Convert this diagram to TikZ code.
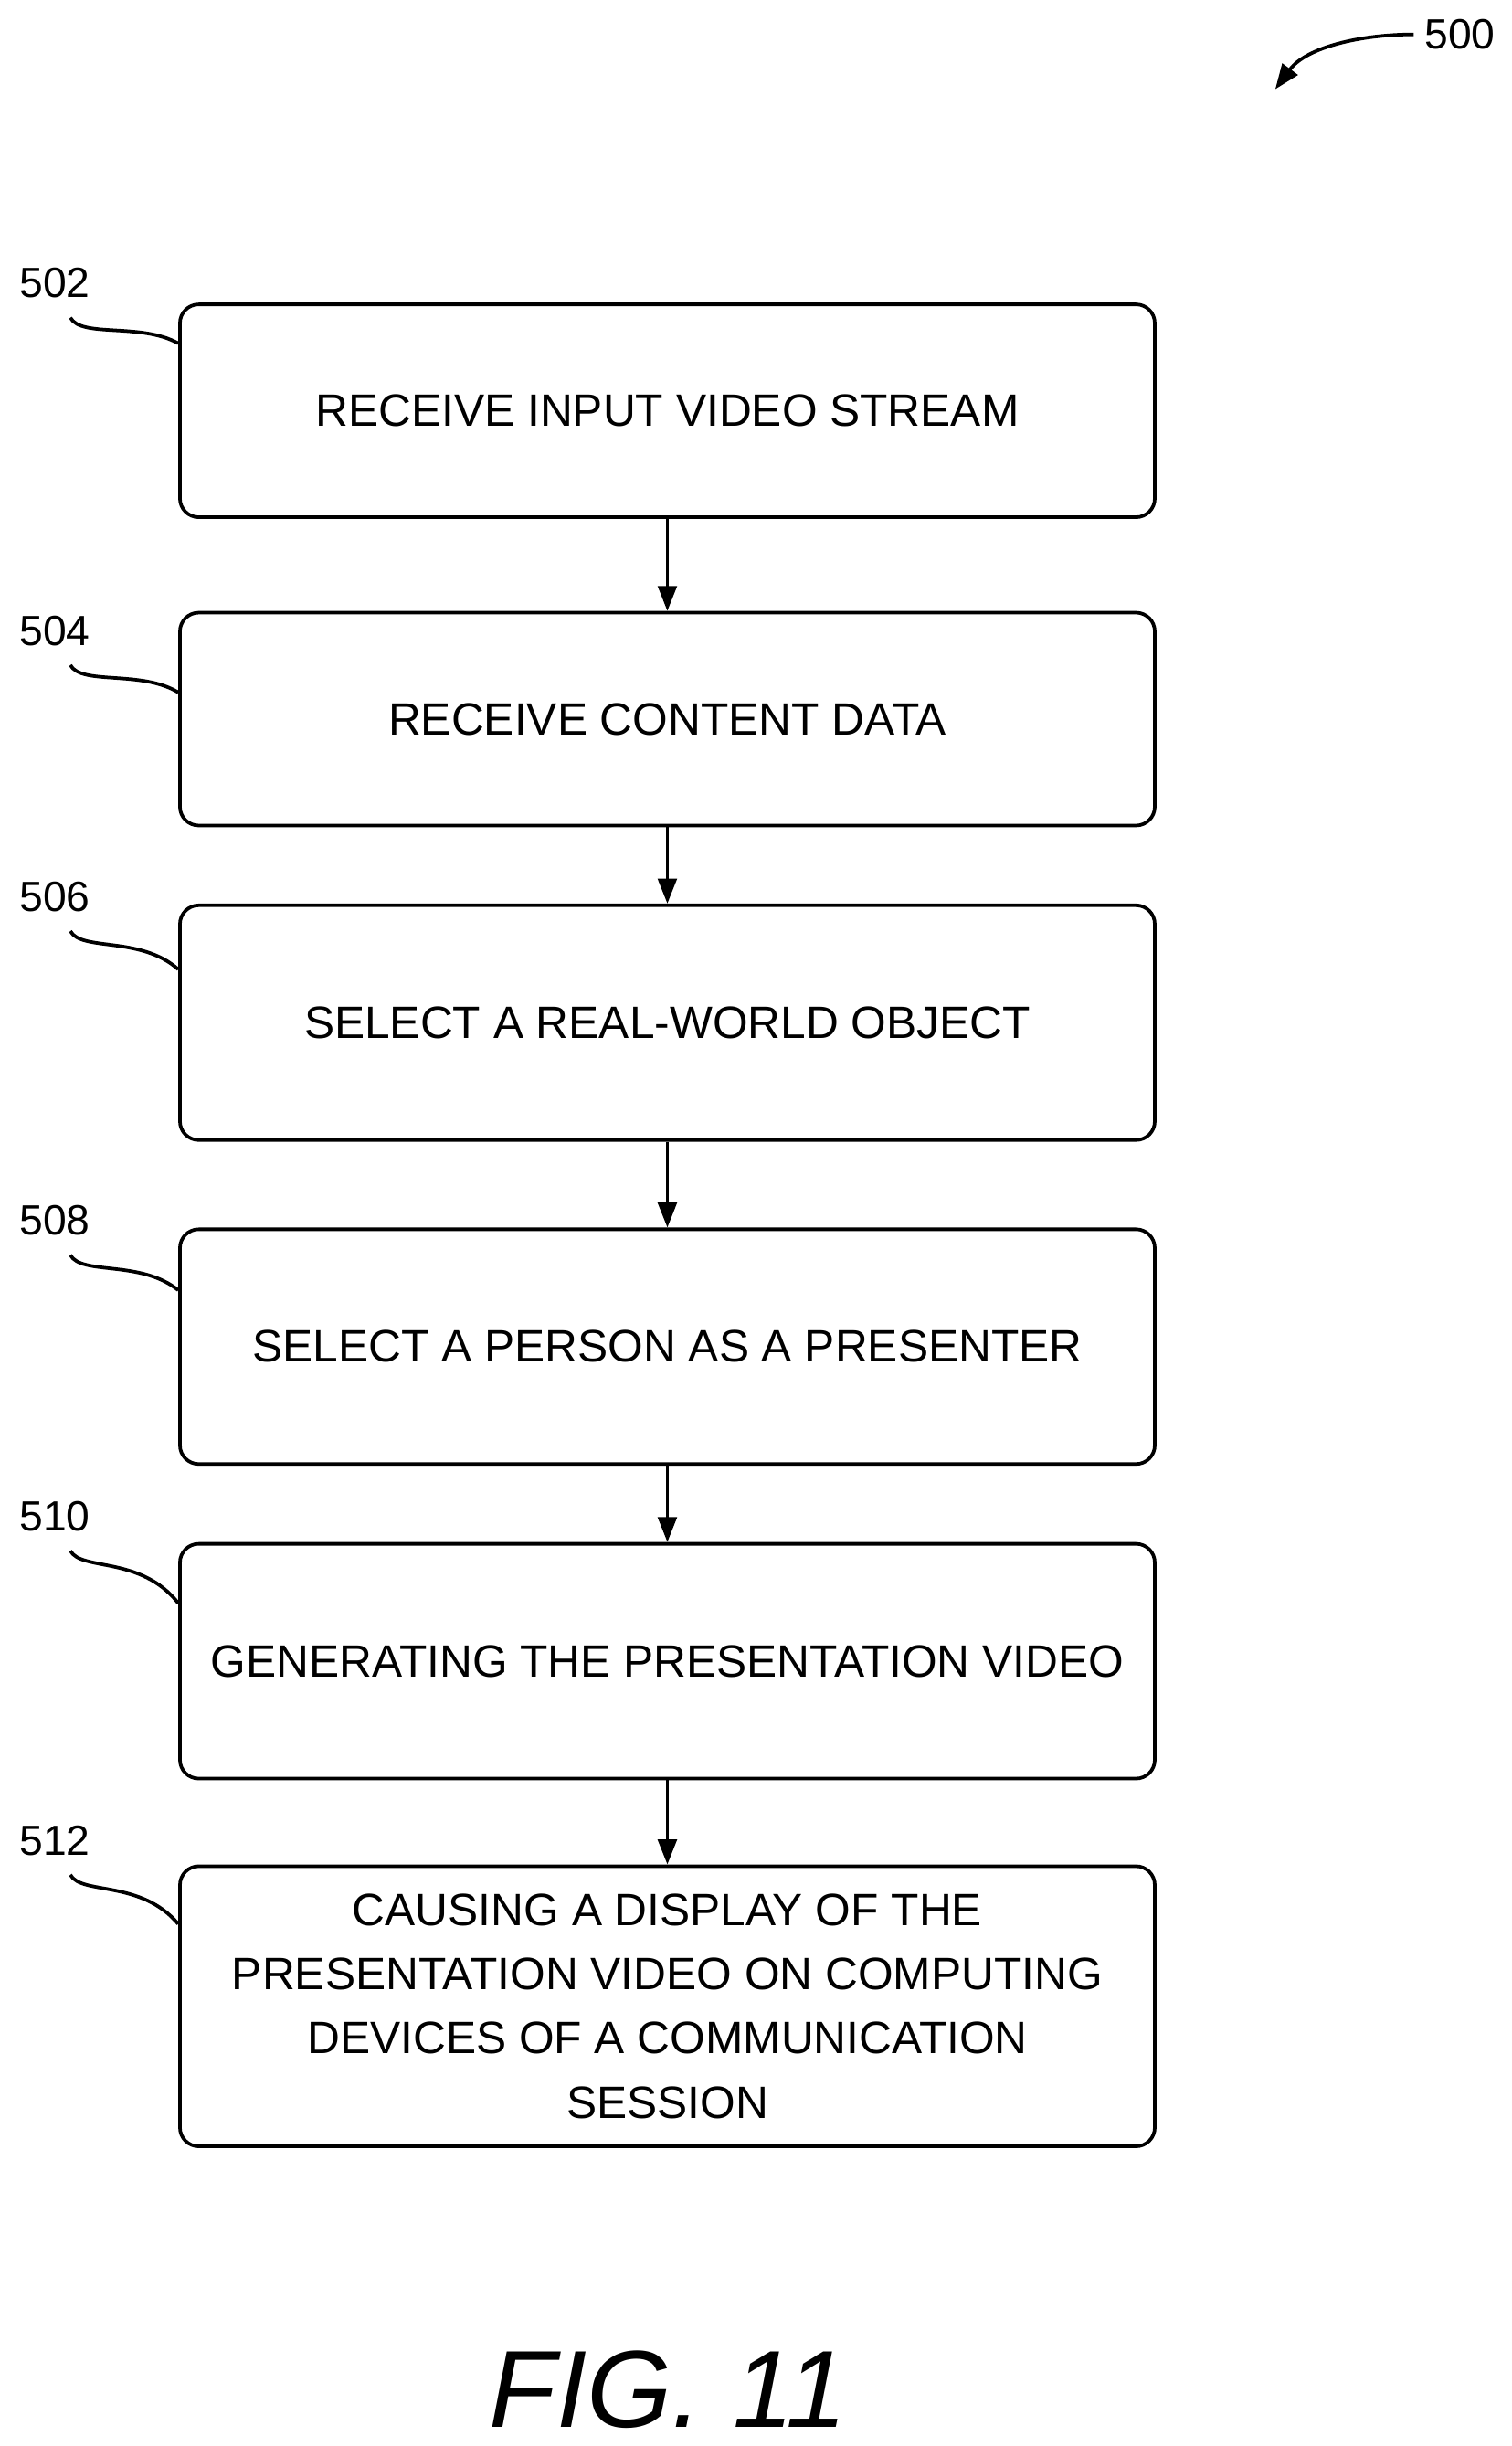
\documentclass[tikz,border=0pt]{standalone}
\usepackage{fontspec}
\setmainfont{Liberation Sans}
\usetikzlibrary{arrows.meta,positioning}

\begin{document}
\begin{tikzpicture}[
    x=0.5pt, y=-0.5pt,
    block/.style={draw, line width=1.1pt, rounded corners=6pt, minimum width=311.5pt,
        align=center, font=\fontsize{14.5}{20.5}\selectfont, inner sep=0},
    tag/.style={font=\fontsize{13.5}{16}\selectfont},
    flow/.style={-{Triangle[length=8pt,width=6pt]}, line width=1.1pt},
    lead/.style={line width=1.1pt}]
\useasboundingbox (0,0) rectangle (966,1563);
% steps
\node[block, minimum height=68pt] (s502) at (426.5,262.5) {RECEIVE INPUT VIDEO STREAM};
\node[block, minimum height=68pt] (s504) at (426.5,459.5) {RECEIVE CONTENT DATA};
\node[block, minimum height=75pt] (s506) at (426.5,653.5) {SELECT A REAL-WORLD OBJECT};
\node[block, minimum height=75pt] (s508) at (426.5,860.5) {SELECT A PERSON AS A PRESENTER};
\node[block, minimum height=75pt] (s510) at (426.5,1061.5) {GENERATING THE PRESENTATION VIDEO};
\node[block, minimum height=89.5pt] (s512) at (426.5,1282) {CAUSING A DISPLAY OF THE\\PRESENTATION VIDEO ON COMPUTING\\DEVICES OF A COMMUNICATION\\SESSION};
% arrows
\foreach \a/\b in {s502/s504,s504/s506,s506/s508,s508/s510,s510/s512}
    \draw[flow] (\a.south) -- (\b.north);
% reference numerals
\foreach \n/\y/\d in {502/181/13,504/403/26,506/573/21,508/780/20,510/969/19.5,512/1176/19}{
    \node[tag] (t\n) at (35,\y) {\n};
    \draw[lead] (45,\y+22) .. controls (52,\y+35) and (90,\y+25) .. ([yshift=-\d pt]s\n.north west);
}
\node[tag] (t500) at (933,22) {500};
\draw[lead, -{Triangle[length=8pt,width=6pt]}] (t500.west) .. controls (870,22) and (835,30) .. (815,57);
% figure caption
\node[font=\fontsize{35}{40}\selectfont\itshape] (fig) at (427,1527) {FIG. 11};
\end{tikzpicture}
\end{document}
